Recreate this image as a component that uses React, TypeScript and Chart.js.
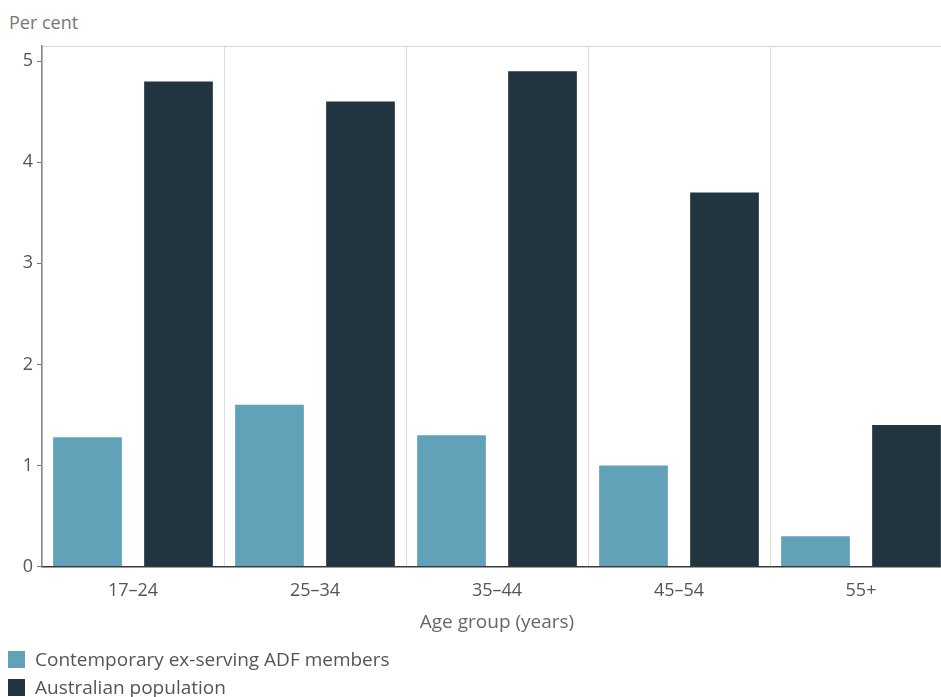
import React, { useEffect, useRef } from "react";
import { Chart, registerables } from "chart.js";

Chart.register(...registerables);

const categories = ["17–24", "25–34", "35–44", "45–54", "55+"];
const exServing = [1.28, 1.6, 1.3, 1.0, 0.3];
const australian = [4.8, 4.6, 4.9, 3.7, 1.4];
const seriesNames = ["Contemporary ex-serving ADF members", "Australian population"];
const seriesColors = ["#61a2b8", "#22343f"];
const yMax = 5.15;
const yTicks = [0, 1, 2, 3, 4, 5];
const yTitle = "Per cent";
const xTitle = "Age group (years)";

const FONT = "'Open Sans', 'Noto Sans', sans-serif";

export default function App() {
  const ref = useRef<HTMLCanvasElement | null>(null);

  useEffect(() => {
    document.body.style.margin = "0";
    document.body.style.overflow = "hidden";
    const chart = new Chart(ref.current as HTMLCanvasElement, {
      type: "bar",
      data: {
        labels: categories,
        datasets: [
          { label: seriesNames[0], data: exServing, backgroundColor: seriesColors[0] },
          { label: seriesNames[1], data: australian, backgroundColor: seriesColors[1] },
        ],
      },
      options: {
        animation: false,
        responsive: false,
        maintainAspectRatio: false,
        layout: { padding: { left: 0, right: 8, top: 46, bottom: 63 } },
        datasets: { bar: { categoryPercentage: 1.0, barPercentage: 0.755 } },
        plugins: {
          legend: { display: false },
          tooltip: { enabled: false },
        },
        scales: {
          x: {
            grid: { display: true, offset: true, color: "#dcdcdc", drawTicks: false },
            border: { display: true, color: "#3a3a3a", width: 1.5 },
            ticks: { color: "#555", font: { family: FONT, size: 18 }, padding: 13 },
            title: {
              display: true,
              text: xTitle,
              color: "#666",
              font: { family: FONT, size: 19 },
              padding: { top: -3, bottom: 0 },
            },
          },
          y: {
            min: 0,
            max: yMax,
            afterFit: (scale: any) => {
              scale.width = 42;
            },
            afterBuildTicks: (scale: any) => {
              const t = yTicks.map((v) => ({ value: v }));
              t.push({ value: yMax });
              scale.ticks = t;
            },
            grid: {
              display: true,
              drawTicks: true,
              tickLength: 5,
              color: (c: any) => (c.tick && c.tick.value === yMax ? "#d6d6d6" : "transparent"),
              tickColor: (c: any) => (c.tick && c.tick.value === yMax ? "transparent" : "#777"),
            },
            border: { display: true, color: "#888", width: 1.5 },
            ticks: {
              color: "#555",
              font: { family: FONT, size: 18 },
              padding: 4,
              callback: (v: any) => (v === yMax ? "" : String(v)),
            },
          },
        },
      },
    });
    return () => chart.destroy();
  }, []);

  return (
    <div
      style={{
        position: "fixed",
        left: 0,
        top: 0,
        width: 941,
        height: 697,
        overflow: "hidden",
        background: "#fff",
        fontFamily: FONT,
      }}
    >
      <div style={{ position: "absolute", left: 9, top: 11, fontSize: 18, lineHeight: "22px", color: "#777" }}>
        {yTitle}
      </div>
      <canvas ref={ref} width={960} height={697} style={{ position: "absolute", left: 0, top: 0 }} />
      <div style={{ position: "absolute", left: 8, top: 645, fontSize: 19, color: "#555" }}>
        {seriesNames.map((n, i) => (
          <div key={n} style={{ display: "flex", alignItems: "center", height: 28 }}>
            <span
              style={{
                display: "inline-block",
                width: 17,
                height: 17,
                background: seriesColors[i],
                marginRight: 10,
              }}
            />
            <span style={{ lineHeight: "28px" }}>{n}</span>
          </div>
        ))}
      </div>
    </div>
  );
}
